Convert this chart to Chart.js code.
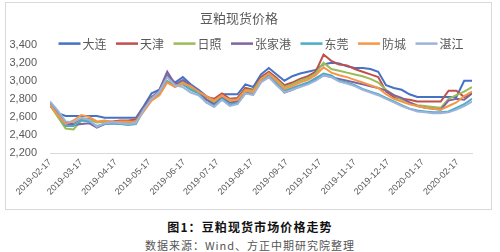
<!DOCTYPE html>
<html><head><meta charset="utf-8">
<script src="https://cdn.jsdelivr.net/npm/chart.js@4.4.1/dist/chart.umd.min.js"></script>
<style>
html,body{margin:0;padding:0;background:#fff;width:500px;height:252px;overflow:hidden;}
#box{position:absolute;left:5px;top:2px;width:487px;height:208px;border:1px solid #d9d9d9;box-sizing:border-box;}
#wrap{position:relative;width:485px;height:206px;}
.cap1{position:absolute;left:0;top:219px;width:500px;text-align:center;font-family:"Noto Sans CJK SC";font-weight:bold;font-size:12px;line-height:16px;letter-spacing:1.1px;color:#111;}
.cap2{position:absolute;left:0;top:238px;width:500px;text-align:center;font-family:"Noto Sans CJK SC";font-size:11px;line-height:14px;letter-spacing:1px;color:#555;}
</style></head>
<body>
<div id="box"><div id="wrap"><canvas id="c"></canvas></div></div>
<div class="cap1">图1：豆粕现货市场价格走势</div>
<div class="cap2">数据来源：Wind、方正中期研究院整理</div>
<script>
const seriesNames = ['大连','天津','日照','张家港','东莞','防城','湛江'];
const seriesColors = ['#4472C4','#C0504D','#9BBB59','#8064A2','#4BACC6','#F79646','#9DB4DA'];
const tickLabels = ['2019-02-17','2019-03-17','2019-04-17','2019-05-17','2019-06-17','2019-07-17','2019-08-17','2019-09-17','2019-10-17','2019-11-17','2019-12-17','2020-01-17','2020-02-17'];
const startDate = '2019-02-17';
const endDate = '2020-03-01';
const dates = ['2019-02-17','2019-02-24','2019-03-03','2019-03-10','2019-03-17','2019-03-24','2019-03-31','2019-04-07','2019-04-14','2019-04-21','2019-04-28','2019-05-05','2019-05-12','2019-05-19','2019-05-26','2019-06-02','2019-06-09','2019-06-16','2019-06-23','2019-06-30','2019-07-07','2019-07-14','2019-07-21','2019-07-28','2019-08-04','2019-08-11','2019-08-18','2019-08-25','2019-09-01','2019-09-08','2019-09-15','2019-09-22','2019-09-29','2019-10-06','2019-10-13','2019-10-20','2019-10-27','2019-11-03','2019-11-10','2019-11-17','2019-11-24','2019-12-01','2019-12-08','2019-12-15','2019-12-22','2019-12-29','2020-01-05','2020-01-12','2020-01-19','2020-01-26','2020-02-02','2020-02-09','2020-02-16','2020-02-23','2020-03-01'];

const dalian    = [2760,2640,2610,2610,2610,2610,2610,2590,2590,2590,2590,2590,2720,2860,2900,3060,2980,3040,2960,2900,2830,2780,2850,2850,2850,2960,2930,3070,3140,3070,3000,3050,3080,3100,3120,3180,3200,3190,3160,3140,3140,3130,3100,2950,2920,2900,2850,2820,2820,2820,2820,2820,2820,3000,3000];
const tianjin   = [2740,2640,2540,2530,2580,2580,2540,2550,2550,2560,2560,2570,2700,2820,2880,3040,2970,2980,2930,2880,2820,2800,2860,2800,2810,2920,2900,3040,3100,3030,2950,2980,3020,3050,3100,3290,3220,3180,3170,3130,3100,3070,3040,2880,2820,2800,2790,2770,2770,2770,2770,2890,2890,2820,2860];
const rizhao    = [2730,2600,2470,2460,2560,2570,2540,2540,2530,2540,2540,2550,2690,2810,2870,3000,2950,2990,2920,2880,2800,2760,2830,2790,2790,2900,2890,3020,3080,3010,2930,2960,3000,3030,3080,3200,3130,3110,3090,3070,3050,3020,2980,2900,2840,2790,2760,2730,2720,2710,2700,2800,2840,2880,2930];
const zhangjiagang = [2720,2650,2520,2510,2520,2530,2480,2520,2530,2520,2520,2530,2700,2800,2900,3100,2960,3010,2950,2870,2790,2740,2810,2760,2770,2880,2860,2990,3040,2960,2870,2900,2940,2970,3010,3060,3040,3020,3000,2980,2960,2940,2920,2890,2840,2810,2760,2720,2700,2690,2680,2780,2800,2790,2860];
const dongguan  = [2740,2630,2500,2500,2560,2550,2500,2520,2530,2520,2510,2520,2680,2790,2860,2990,2940,2960,2900,2860,2760,2720,2800,2740,2750,2860,2850,3000,3060,2980,2890,2920,2950,2980,3030,3080,3060,3000,2980,2950,2910,2880,2850,2810,2770,2730,2690,2670,2660,2650,2650,2660,2700,2740,2800];
const fangcheng = [2730,2620,2520,2560,2620,2600,2550,2560,2540,2550,2550,2540,2660,2780,2840,2980,2930,2970,2940,2880,2830,2780,2840,2780,2790,2890,2870,3010,3080,3000,2910,2940,2980,3010,3060,3150,3090,3060,3040,3010,2980,2950,2920,2850,2800,2770,2740,2720,2700,2690,2680,2720,2760,2830,2880];
const zhanjiang = [2770,2670,2550,2540,2590,2570,2490,2530,2540,2530,2520,2530,2680,2800,2880,3040,2950,2930,2870,2840,2760,2710,2790,2720,2740,2860,2840,2980,3040,2950,2870,2900,2930,2960,3000,3060,3040,2990,2970,2940,2900,2870,2840,2800,2760,2720,2690,2660,2650,2640,2640,2650,2680,2720,2770];
const seriesValues = [dalian,tianjin,rizhao,zhangjiagang,dongguan,fangcheng,zhanjiang];

const dayOffset = s => Math.round((Date.parse(s) - Date.parse(startDate)) / 864e5);
const tickByDay = {};
tickLabels.forEach(t => { tickByDay[dayOffset(t)] = t; });

const datasets = seriesNames.map((name, k) => ({
  label: name,
  data: dates.map((d, i) => ({x: dayOffset(d), y: seriesValues[k][i]})),
  borderColor: seriesColors[k],
  backgroundColor: seriesColors[k],
  borderWidth: 2,
  pointRadius: 0,
  tension: 0,
  fill: false,
  order: seriesNames.length - 1 - k
}));

const customLegend = {
  id: 'customLegend',
  afterDraw(chart) {
    const ctx = chart.ctx, ca = chart.chartArea;
    ctx.save();
    ctx.font = '12px "Noto Sans CJK SC"';
    const lineW = 22, gapText = 2, gapItem = 9.5;
    const items = chart.data.datasets.map(ds => ({label: ds.label, color: ds.borderColor, tw: ctx.measureText(ds.label).width}));
    const total = items.reduce((s, it) => s + lineW + gapText + it.tw, 0) + gapItem * (items.length - 1);
    let x = (ca.left + ca.right) / 2 - total / 2;
    const y = ca.top - 1;
    ctx.textBaseline = 'middle';
    items.forEach(it => {
      ctx.strokeStyle = it.color; ctx.lineWidth = 2.5;
      ctx.beginPath(); ctx.moveTo(x, y); ctx.lineTo(x + lineW, y); ctx.stroke();
      ctx.fillStyle = '#595959';
      ctx.fillText(it.label, x + lineW + gapText, y + 0.5);
      x += lineW + gapText + it.tw + gapItem;
    });
    ctx.restore();
  }
};

new Chart(document.getElementById('c'), {
  type: 'line',
  data: {datasets},
  plugins: [customLegend],
  options: {
    responsive: true,
    maintainAspectRatio: false,
    animation: false,
    layout: {padding: {left: 0, right: 19, top: 0, bottom: 6}},
    plugins: {
      legend: {display: false},
      tooltip: {enabled: false},
      title: {
        display: true,
        text: '豆粕现货价格',
        color: '#595959',
        font: {family: '"Noto Sans CJK SC"', size: 13, weight: 'normal'},
        padding: {top: 7, bottom: 19}
      }
    },
    scales: {
      x: {
        type: 'linear',
        min: 0,
        max: dayOffset(endDate),
        afterBuildTicks: scale => { scale.ticks = tickLabels.map(t => ({value: dayOffset(t)})); },
        afterFit: scale => { scale.height = 50; },
        grid: {display: false, drawTicks: false},
        border: {display: true, color: '#d9d9d9', width: 1},
        ticks: {
          autoSkip: false,
          minRotation: 45,
          maxRotation: 45,
          padding: 4,
          color: '#595959',
          font: {family: '"Liberation Sans"', size: 9},
          callback: v => tickByDay[v] || ''
        }
      },
      y: {
        min: 2200,
        max: 3400,
        afterFit: scale => { scale.width = 44; },
        grid: {display: false, drawTicks: false},
        border: {display: false},
        ticks: {
          stepSize: 200,
          padding: 13,
          color: '#595959',
          font: {family: '"Liberation Sans"', size: 11},
          callback: v => v.toLocaleString('en-US')
        }
      }
    }
  }
});
</script>
</body></html>
